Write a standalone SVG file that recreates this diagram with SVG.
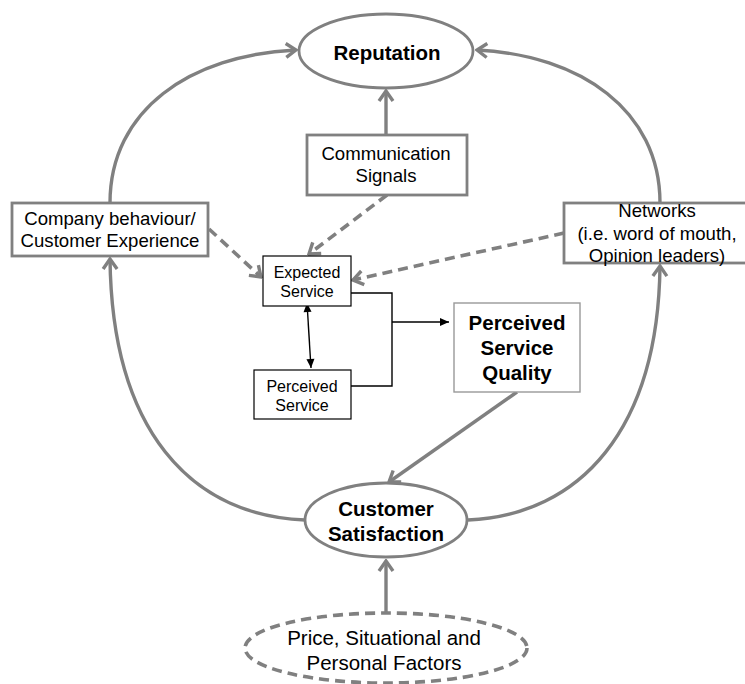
<svg xmlns="http://www.w3.org/2000/svg" width="745" height="684" viewBox="0 0 745 684">
<defs>
<style>
.g{fill:none;stroke:#808080;stroke-width:3.4}
.gd{fill:none;stroke:#808080;stroke-width:3.6;stroke-dasharray:10 6}
.box{fill:#fff;stroke:#808080;stroke-width:2.8}
.bk{fill:#fff;stroke:#000;stroke-width:1.2}
.bl{fill:none;stroke:#000;stroke-width:1.4}
text{font-family:"Liberation Sans",Arial,sans-serif;fill:#000;text-anchor:middle}
.b{font-weight:bold;font-size:20.5px}
.r{font-size:18.6px}
.s{font-size:16px}
</style>
<marker id="ga" viewBox="-12 -9 14 18" refX="0" refY="0" markerWidth="14" markerHeight="18" markerUnits="userSpaceOnUse" orient="auto">
<path d="M-10,-7 L0,0 L-10,7" fill="none" stroke="#808080" stroke-width="3.4" stroke-linejoin="miter"/>
</marker>
<marker id="ba" viewBox="-10 -5 11 10" refX="0" refY="0" markerWidth="11" markerHeight="10" markerUnits="userSpaceOnUse" orient="auto">
<path d="M-9,-4 L0,0 L-9,4 Z" fill="#000"/>
</marker>
<marker id="bs" viewBox="-1 -5 11 10" refX="0" refY="0" markerWidth="11" markerHeight="10" markerUnits="userSpaceOnUse" orient="auto">
<path d="M9,-4 L0,0 L9,4 Z" fill="#000"/>
</marker>
</defs>
<rect width="745" height="684" fill="#fff"/>
<g id="connectors">
<path class="g" d="M110,203 C110,110 190,55 296,50" marker-end="url(#ga)"/>
<path class="g" d="M660,203 C660,110 580,55 477,50" marker-end="url(#ga)"/>
<path class="g" d="M386,135 L386,91" marker-end="url(#ga)"/>
<path class="g" d="M305,520 C190,515 112,430 110,259" marker-end="url(#ga)"/>
<path class="g" d="M468,520 C580,515 658,430 660,266" marker-end="url(#ga)"/>
<path class="g" d="M517,392 L389,482" marker-end="url(#ga)"/>
<path class="g" d="M386,612 L386,561" marker-end="url(#ga)"/>
<path class="gd" d="M387,195 L309,254" marker-end="url(#ga)"/>
<path class="gd" d="M209,229 L261,277" marker-end="url(#ga)"/>
<path class="gd" d="M564,233 L353,280" marker-end="url(#ga)"/>
<path class="bl" d="M351,293 L392,293 L392,386 L351,386"/>
<path class="bl" d="M392,322 L449,322" marker-end="url(#ba)"/>
<path class="bl" d="M307,303 L311,368" marker-start="url(#bs)" marker-end="url(#ba)"/>
</g>
<g id="reputation">
<ellipse cx="386" cy="51" rx="87" ry="37" class="box"/>
<text x="387" y="60" class="b">Reputation</text>
</g>
<g id="communication">
<rect x="307" y="135" width="160" height="60" class="box"/>
<text x="386" y="160" class="r">Communication</text>
<text x="386" y="182" class="r">Signals</text>
</g>
<g id="company">
<rect x="12" y="203" width="196" height="53" class="box"/>
<text x="110" y="225" class="r">Company behaviour/</text>
<text x="110" y="247" class="r">Customer Experience</text>
</g>
<g id="networks">
<rect x="564" y="203" width="190" height="60" class="box"/>
<text x="657" y="217" class="r">Networks</text>
<text x="657" y="240" class="r">(i.e. word of mouth,</text>
<text x="657" y="262" class="r">Opinion leaders)</text>
</g>
<g id="expected">
<rect x="263" y="256" width="88" height="50" class="bk"/>
<text x="307" y="278" class="s">Expected</text>
<text x="307" y="297" class="s">Service</text>
</g>
<g id="perceived">
<rect x="254" y="370" width="97" height="49" class="bk"/>
<text x="302" y="392" class="s">Perceived</text>
<text x="302" y="411" class="s">Service</text>
</g>
<g id="psq">
<rect x="454" y="303" width="126" height="89" fill="#fff" stroke="#999" stroke-width="1.4"/>
<text x="517" y="330" class="b">Perceived</text>
<text x="517" y="355" class="b">Service</text>
<text x="517" y="380" class="b">Quality</text>
</g>
<g id="satisfaction">
<ellipse cx="386" cy="520" rx="81" ry="37" class="box"/>
<text x="386" y="516" class="b">Customer</text>
<text x="386" y="541" class="b">Satisfaction</text>
</g>
<g id="factors">
<ellipse cx="386" cy="648" rx="141" ry="35" fill="#fff" stroke="#808080" stroke-width="3.6" stroke-dasharray="10 6"/>
<text x="384" y="645" style="font-size:20.5px">Price, Situational and</text>
<text x="384" y="670" style="font-size:20.5px">Personal Factors</text>
</g>
</svg>
